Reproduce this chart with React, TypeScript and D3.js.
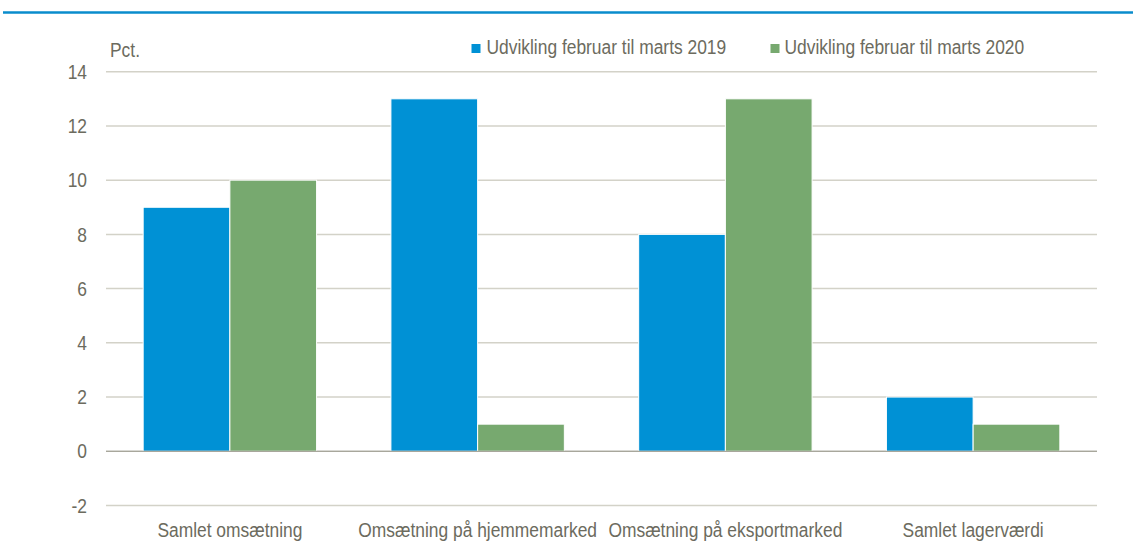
import React from "react";
import * as d3 from "d3";

const categories = ["Samlet omsætning", "Omsætning på hjemmemarked", "Omsætning på eksportmarked", "Samlet lagerværdi"];
const series2019 = [9, 13, 8, 2];
const series2020 = [10, 1, 13, 1];
const seriesNames = ["Udvikling februar til marts 2019", "Udvikling februar til marts 2020"];
const yTicks = [-2, 0, 2, 4, 6, 8, 10, 12, 14];

const W = 1134;
const H = 548;
const BLUE = "#0091d5";
const GREEN = "#77a96f";
const TEXT = "#6c6b5e";
const FONT = "'Liberation Sans', Arial, sans-serif";
const FS = 20;
const SX = 0.87;

function T(props: { x: number; y: number; anchor?: string; children: React.ReactNode }) {
  return (
    <text transform={`translate(${props.x},${props.y}) scale(${SX},1)`} textAnchor={props.anchor || "start"}
      fontSize={FS} fill={TEXT} fontFamily={FONT}>{props.children}</text>
  );
}

export default function App() {
  const x = d3.scaleBand<string>().domain(categories).range([106, 1097]).paddingInner(0.3).paddingOuter(0.15);
  const y = d3.scaleLinear().domain([-2, 14]).range([505.5, 71.7]);
  const sub = d3.scaleBand<number>().domain([0, 1]).range([0, x.bandwidth()]);
  const seriesVals = [series2019, series2020];
  const colors = [BLUE, GREEN];

  return (
    <svg width={W} height={H} style={{ position: "absolute", left: 0, top: 0, background: "#fff" }}>
      <rect x={0} y={0} width={W} height={H} fill="#fff" />
      <line x1={3} x2={1133} y1={12.5} y2={12.5} stroke="#0a8ccc" strokeWidth={2.5} />
      {yTicks.map((t) => (
        <g key={t}>
          <line x1={106} x2={1097} y1={y(t)} y2={y(t)} stroke={t === 0 ? "#a8a79c" : "#d3d2c8"} strokeWidth={t === 0 ? 1.3 : 1.5} />
          <T x={87} y={y(t) + 7.2} anchor="end">{t}</T>
        </g>
      ))}
      {seriesVals.map((vals, si) =>
        categories.map((c, i) => {
          const v = vals[i];
          const x0 = (x(c) as number) + (sub(si) as number);
          return (
            <rect key={si + "-" + c} x={x0} y={y(Math.max(0, v))} width={sub.bandwidth()} height={Math.abs(y(v) - y(0))}
              fill={colors[si]} stroke="#fff" strokeWidth={1} />
          );
        })
      )}
      <line x1={106} x2={1097} y1={y(0)} y2={y(0)} stroke="#a8a79c" strokeWidth={1.3} />
      {categories.map((c) => (
        <T key={c} x={(x(c) as number) + x.bandwidth() / 2} y={537} anchor="middle">{c}</T>
      ))}
      <T x={110} y={57}>Pct.</T>
      <rect x={471.5} y={44} width={9} height={9} fill={BLUE} />
      <T x={486.5} y={54}>{seriesNames[0]}</T>
      <rect x={770.5} y={44} width={9} height={9} fill={GREEN} />
      <T x={784.5} y={54}>{seriesNames[1]}</T>
    </svg>
  );
}
